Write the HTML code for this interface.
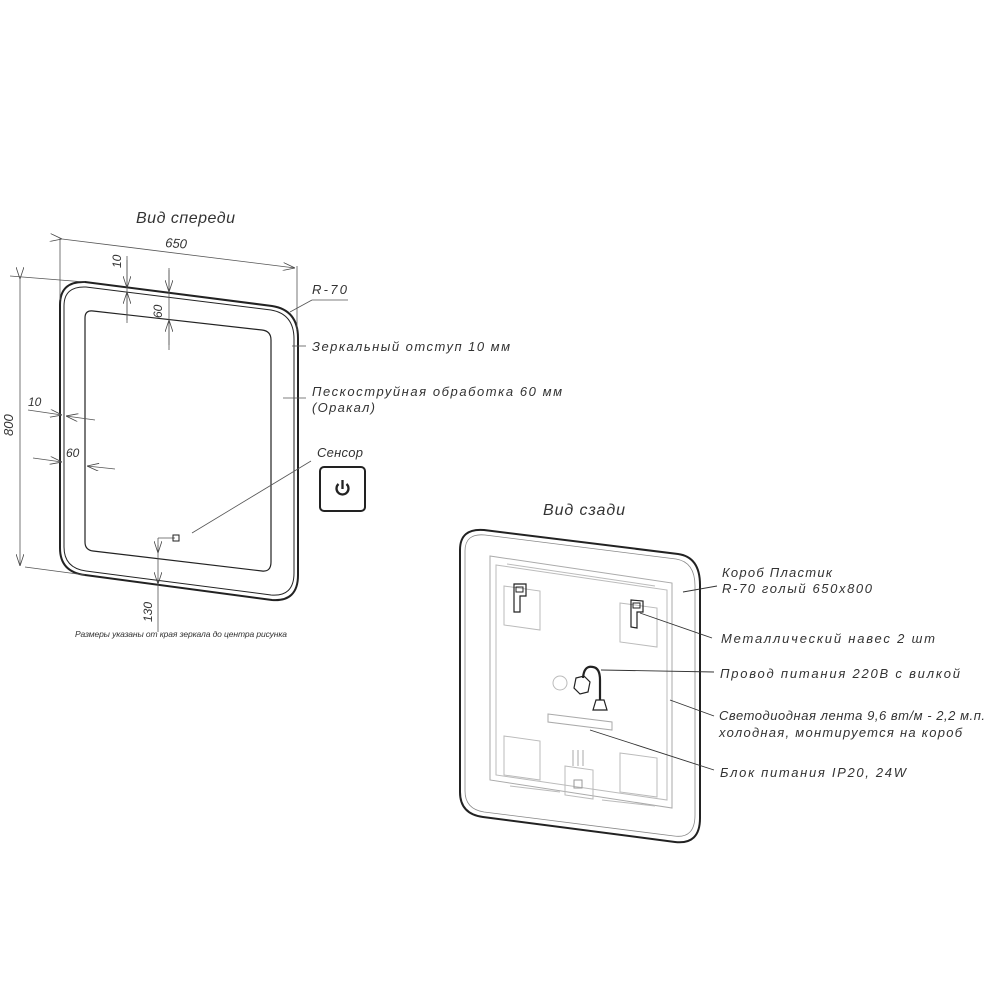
<!DOCTYPE html>
<html><head><meta charset="utf-8"><style>
html,body{margin:0;padding:0;background:#fff;}
svg text{font-family:"Liberation Sans","DejaVu Sans",sans-serif;font-style:italic;fill:#333;}
</style></head><body>
<svg width="1000" height="1000" viewBox="0 0 1000 1000" xmlns="http://www.w3.org/2000/svg">
<defs>
<marker id="a" markerWidth="12" markerHeight="8" refX="12" refY="4" orient="auto" markerUnits="userSpaceOnUse">
<path d="M0,0 L12,4 L0,8" fill="none" stroke="#444" stroke-width="0.8"/></marker>
</defs>
<g fill="none" stroke="#222">
<path d="M60,305 Q60,281 85,282 L272,306 Q298,310 298,338 L298,575 Q298,602 272,600 L85,575 Q60,572 60,548 Z" stroke-width="2"/>
<path d="M64,306 Q64,286 86,287 L271,310 Q294,314 294,339 L294,573 Q294,597 271,595 L86,571 Q64,568 64,547 Z" stroke-width="1"/>
<path d="M85,318 Q85,310 93,311 L262,330 Q271,331 271,340 L271,562 Q271,572 262,571 L93,551 Q85,550 85,542 Z" stroke-width="1.2"/>
</g>
<g stroke="#555" stroke-width="0.8" fill="none">
<line x1="60" y1="238" x2="60" y2="300"/>
<line x1="297" y1="266" x2="297" y2="330"/>
<line x1="62" y1="239" x2="295" y2="268" marker-start="url(#a)" marker-end="url(#a)"/>
<line x1="10" y1="276" x2="85" y2="282"/>
<line x1="25" y1="567" x2="85" y2="575"/>
<line x1="20" y1="279" x2="20" y2="566" marker-start="url(#a)" marker-end="url(#a)"/>
<line x1="127" y1="256" x2="127" y2="323"/>
<line x1="127" y1="260" x2="127" y2="288" marker-end="url(#a)"/>
<line x1="127" y1="320" x2="127" y2="292" marker-end="url(#a)"/>
<line x1="169" y1="268" x2="169" y2="350"/>
<line x1="169" y1="270" x2="169" y2="292" marker-end="url(#a)"/>
<line x1="169" y1="345" x2="169" y2="320" marker-end="url(#a)"/>
<line x1="28" y1="410" x2="62" y2="415" marker-end="url(#a)"/>
<line x1="95" y1="420" x2="66" y2="416" marker-end="url(#a)"/>
<line x1="33" y1="458" x2="62" y2="462" marker-end="url(#a)"/>
<line x1="115" y1="469" x2="87" y2="466" marker-end="url(#a)"/>
<line x1="158" y1="538" x2="158" y2="632"/>
<line x1="158" y1="538" x2="175" y2="538"/>
<line x1="158" y1="545" x2="158" y2="553" marker-end="url(#a)"/>
<line x1="158" y1="578" x2="158" y2="584" marker-end="url(#a)"/>
<line x1="290" y1="312" x2="312" y2="300"/>
<line x1="312" y1="300" x2="348" y2="300"/>
<line x1="292" y1="346" x2="306" y2="346"/>
<line x1="283" y1="398" x2="306" y2="398"/>
<line x1="192" y1="533" x2="311" y2="461"/>
</g>
<rect x="173" y="535" width="6" height="6" fill="none" stroke="#222" stroke-width="1"/>
<rect x="320" y="467" width="45" height="44" rx="4" fill="none" stroke="#222" stroke-width="2"/>
<path d="M338.5,484 A6,6 0 1 0 346.5,484" fill="none" stroke="#222" stroke-width="2.3"/>
<line x1="342.5" y1="480" x2="342.5" y2="489" stroke="#222" stroke-width="2.3"/>

<text x="136" y="223" font-size="16" textLength="99">Вид спереди</text>
<text x="165" y="247" font-size="13" transform="rotate(4 165 247)">650</text>
<text x="121" y="268" font-size="12" transform="rotate(-90 121 268)">10</text>
<text x="162" y="318" font-size="12" transform="rotate(-90 162 318)">60</text>
<text x="28" y="406" font-size="12">10</text>
<text x="66" y="457" font-size="12">60</text>
<text x="13" y="436" font-size="13" transform="rotate(-90 13 436)">800</text>
<text x="152" y="622" font-size="12" transform="rotate(-90 152 622)">130</text>
<text x="312" y="294" font-size="13" textLength="35">R-70</text>
<text x="312" y="351" font-size="13" textLength="198">Зеркальный отступ 10 мм</text>
<text x="312" y="396" font-size="13" textLength="250">Пескоструйная обработка 60 мм</text>
<text x="312" y="412" font-size="13" textLength="63">(Оракал)</text>
<text x="317" y="457" font-size="13" textLength="46">Сенсор</text>
<text x="75" y="637" font-size="8.5" textLength="212">Размеры указаны от края зеркала до центра рисунка</text>

<g fill="none">
<path d="M460,550 Q460,528 484,530 L678,554 Q700,557 700,585 L700,818 Q700,845 675,842 L483,817 Q460,814 460,792 Z" stroke="#222" stroke-width="2"/>
<path d="M465,551 Q465,533 485,535 L676,559 Q695,562 695,586 L695,815 Q695,839 674,836 L484,812 Q465,809 465,791 Z" stroke="#888" stroke-width="0.8"/>
<path d="M490,556 L672,583 L672,808 L490,780 Z" stroke="#aaa" stroke-width="1"/>
<path d="M496,565 L667,590 L667,800 L496,775 Z" stroke="#bbb" stroke-width="1"/>
<path d="M507,564 L655,586" stroke="#bbb"/>
<path d="M504,586 L540,591 L540,630 L504,625 Z" stroke="#bbb"/>
<path d="M620,603 L657,608 L657,647 L620,642 Z" stroke="#bbb"/>
<path d="M504,736 L540,741 L540,780 L504,775 Z" stroke="#bbb"/>
<path d="M620,753 L657,758 L657,797 L620,792 Z" stroke="#bbb"/>
<path d="M565,766 L593,770 L593,799 L565,795 Z" stroke="#bbb"/>
<rect x="574" y="780" width="8" height="8" stroke="#999"/>
<path d="M573,766 L573,750 M578,766 L578,750 M583,766 L583,750" stroke="#aaa"/>
<path d="M548,714 L612,722 L612,730 L548,722 Z" stroke="#aaa"/>
<path d="M510,786 L560,792 M602,800 L655,806" stroke="#bbb"/>
<circle cx="560" cy="683" r="7" stroke="#bbb"/>
<path d="M514,584 L526,584 L526,596 L520,596 L520,612 L514,612 Z" stroke="#222" stroke-width="1.2"/>
<rect x="516" y="587" width="7" height="5" stroke="#222"/>
<path d="M631,600 L643,601 L643,612 L637,612 L637,628 L631,627 Z" stroke="#222" stroke-width="1.2"/>
<rect x="633" y="603" width="7" height="5" stroke="#222"/>
<path d="M583,678 Q584,665 593,667 Q600,668 600,680 L600,700" stroke="#222" stroke-width="2.2"/>
<path d="M576,678 L584,676 L590,682 L588,692 L580,694 L574,688 Z" stroke="#222" stroke-width="1.2"/>
<path d="M596,700 L604,700 L607,710 L593,710 Z" stroke="#222" stroke-width="1.2"/>
</g>
<g stroke="#333" stroke-width="0.9">
<line x1="683" y1="592" x2="717" y2="586"/>
<line x1="640" y1="613" x2="712" y2="638"/>
<line x1="601" y1="670" x2="714" y2="672"/>
<line x1="670" y1="700" x2="714" y2="716"/>
<line x1="590" y1="730" x2="714" y2="770"/>
</g>
<text x="543" y="515" font-size="16" textLength="82">Вид сзади</text>
<text x="722" y="577" font-size="13" textLength="110">Короб Пластик</text>
<text x="722" y="593" font-size="13" textLength="150">R-70 голый 650x800</text>
<text x="721" y="643" font-size="13" textLength="214">Металлический навес 2 шт</text>
<text x="720" y="678" font-size="13" textLength="240">Провод питания 220В с вилкой</text>
<text x="719" y="720" font-size="13" textLength="266">Светодиодная лента 9,6 вт/м - 2,2 м.п.</text>
<text x="719" y="737" font-size="13" textLength="243">холодная, монтируется на короб</text>
<text x="720" y="777" font-size="13" textLength="186">Блок питания IP20, 24W</text>
</svg>
</body></html>
